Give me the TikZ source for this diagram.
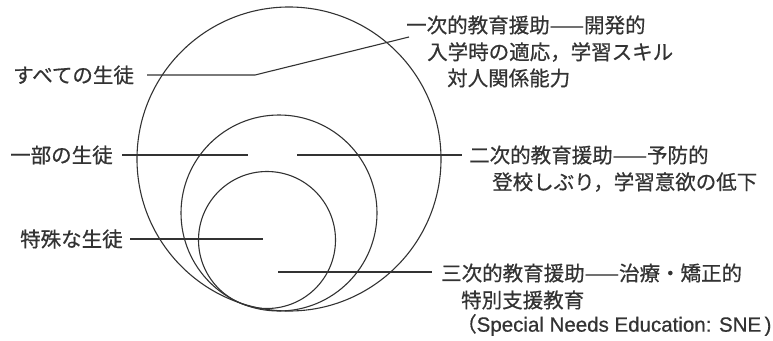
\documentclass[tikz,border=0pt]{standalone}
\usepackage{fontspec}
\setmainfont{Noto Sans CJK JP}[FakeBold=0.6]
\newfontfamily\latinsans{Liberation Sans}[FakeBold=0.6]
\definecolor{ink}{HTML}{333333}
\begin{document}
\begin{tikzpicture}[x=1pt,y=-1pt,
  lbl/.style={anchor=west,inner sep=0pt,text=ink,font=\fontsize{20.5}{24}\selectfont},
  ring/.style={draw=ink,line width=1.1pt},
  conn/.style={draw=ink,line width=1.1pt}]
\useasboundingbox (0,0) rectangle (773,340);
% circles
\node[ring,circle,minimum size=304pt,inner sep=0pt] (big) at (289,159) {};
\node[ring,circle,minimum size=196pt,inner sep=0pt] (mid) at (279,213) {};
\node[ring,circle,minimum size=137pt,inner sep=0pt] (small) at (267,240) {};
% left labels
\node[lbl] (all) at (13,75) {すべての生徒};
\node[lbl] (some) at (10,155) {一部の生徒};
\node[lbl] (spec) at (20,239) {特殊な生徒};
% right labels
\node[lbl] (p1) at (406,25) {一次的教育援助——開発的};
\node[lbl] (p2) at (427,52) {入学時の適応，学習スキル};
\node[lbl] (p3) at (447,78) {対人関係能力};
\node[lbl] (s1) at (469,155) {二次的教育援助——予防的};
\node[lbl] (s2) at (492,182) {登校しぶり，学習意欲の低下};
\node[lbl] (t1) at (441,273) {三次的教育援助——治療・矯正的};
\node[lbl] (t2) at (461,300) {特別支援教育};
\node[lbl] (t3) at (456,325) {（{\latinsans Special Needs Education: SNE\,)}};
% connector points
\coordinate (a0) at (147,75);
\coordinate (a1) at (255,75);
\coordinate (a2) at (409,37);
\coordinate (b0) at (122,155);
\coordinate (b1) at (248,155);
\coordinate (b2) at (297,155);
\coordinate (b3) at (462,155);
\coordinate (c0) at (130,239);
\coordinate (c1) at (263,239);
\coordinate (d0) at (278,272);
\coordinate (d1) at (432,272);
\draw[conn] (a0) -- (a1) -- (a2);
\draw[conn] (b0) -- (b1);
\draw[conn] (b2) -- (b3);
\draw[conn] (c0) -- (c1);
\draw[conn] (d0) -- (d1);
\end{tikzpicture}
\end{document}
